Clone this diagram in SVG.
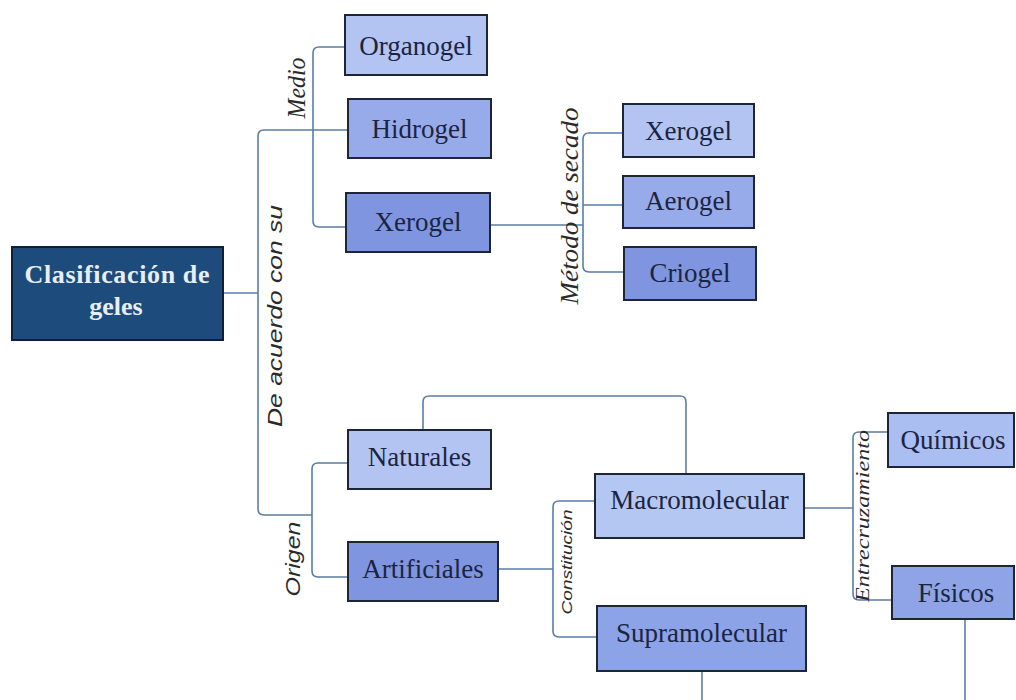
<svg xmlns="http://www.w3.org/2000/svg" width="1016" height="700" viewBox="0 0 1016 700">
<style>
.box{stroke:#1e2535;stroke-width:2}
.t{font-family:"Liberation Serif","Times New Roman",serif;font-size:27px;fill:#1b2440;text-anchor:middle}
.title{font-family:"Liberation Serif","Times New Roman",serif;font-size:26px;font-weight:bold;fill:#e8eef6;text-anchor:middle}
.lbl{font-family:"Liberation Serif","Times New Roman",serif;font-style:italic;fill:#2a2a2a;text-anchor:middle}
.lbs{font-family:"Liberation Sans",Arial,sans-serif;font-style:italic;fill:#2a2a2a;text-anchor:middle}
.c{fill:none;stroke:#5a7ea6;stroke-width:1.6}
.l1{fill:#b3c4f3}.l2{fill:#97abea}.l3{fill:#7f95e0}
</style>
<rect width="1016" height="700" fill="#ffffff"/>
<g id="connectors">
<path class="c" d="M222,293 H258"/>
<path class="c" d="M348,130 H264 Q258,130 258,136 V509 Q258,515 264,515 H312"/>
<path class="c" d="M345,47 H319 Q313,47 313,53 V221 Q313,227 319,227 H346"/>
<path class="c" d="M490,225 H583"/>
<path class="c" d="M623,133 H589 Q583,133 583,139 V266 Q583,272 589,272 H624"/>
<path class="c" d="M583,205 H623"/>
<path class="c" d="M348,463 H318 Q312,463 312,469 V571 Q312,577 318,577 H348"/>
<path class="c" d="M423,430 V402 Q423,396 429,396 H680 Q686,396 686,402 V474"/>
<path class="c" d="M498,569 H553"/>
<path class="c" d="M595,501 H559 Q553,501 553,507 V631 Q553,637 559,637 H597"/>
<path class="c" d="M804,508 H853"/>
<path class="c" d="M888,432 H859 Q853,432 853,438 V594 Q853,600 859,600 H892"/>
<path class="c" d="M702,671 V700"/>
<path class="c" d="M965,619 V700"/>
</g>
<g id="labels">
<text class="lbs" x="282" y="316" font-size="20" textLength="222" lengthAdjust="spacingAndGlyphs" transform="rotate(-90 282 316)">De acuerdo con su</text>
<text class="lbl" x="305" y="88" font-size="25" textLength="61" lengthAdjust="spacingAndGlyphs" transform="rotate(-90 305 88)">Medio</text>
<text class="lbl" x="578" y="206" font-size="25" textLength="197" lengthAdjust="spacingAndGlyphs" transform="rotate(-90 578 206)">Método de secado</text>
<text class="lbs" x="300" y="559" font-size="21" textLength="75" lengthAdjust="spacingAndGlyphs" transform="rotate(-90 300 559)">Origen</text>
<text class="lbs" x="572" y="562" font-size="15" textLength="105" lengthAdjust="spacingAndGlyphs" transform="rotate(-90 572 562)">Constitución</text>
<text class="lbl" x="869" y="516" font-size="18" textLength="172" lengthAdjust="spacingAndGlyphs" transform="rotate(-90 869 516)">Entrecruzamiento</text>
</g>
<g id="n-main"><rect x="12" y="247" width="211" height="93" fill="#1d4b7b" stroke="#0e2036" stroke-width="2"/><text class="title" x="117" y="283" textLength="185" lengthAdjust="spacing">Clasificación de</text><text class="title" x="116" y="315">geles</text></g>
<g id="n-organogel"><rect class="box l1" x="345" y="15" width="142" height="60"/><text class="t" x="416" y="55">Organogel</text></g>
<g id="n-hidrogel"><rect class="box l2" x="348" y="99" width="143" height="59"/><text class="t" x="419.5" y="138">Hidrogel</text></g>
<g id="n-xerogel1"><rect class="box l3" x="346" y="193" width="144" height="59"/><text class="t" x="418" y="231">Xerogel</text></g>
<g id="n-xerogel2"><rect class="box l1" x="623" y="104" width="131" height="53"/><text class="t" x="688.5" y="140">Xerogel</text></g>
<g id="n-aerogel"><rect class="box l2" x="623" y="176" width="131" height="52"/><text class="t" x="688.5" y="210">Aerogel</text></g>
<g id="n-criogel"><rect class="box l3" x="624" y="247" width="132" height="53"/><text class="t" x="690" y="282">Criogel</text></g>
<g id="n-naturales"><rect class="box l1" x="348" y="430" width="143" height="59"/><text class="t" x="419.5" y="466">Naturales</text></g>
<g id="n-artificiales"><rect class="box l3" x="348" y="542" width="150" height="59"/><text class="t" x="423" y="578">Artificiales</text></g>
<g id="n-macro"><rect class="box" fill="#b4c7f2" x="595" y="474" width="209" height="64"/><text class="t" x="699.5" y="509">Macromolecular</text></g>
<g id="n-supra"><rect class="box" fill="#8ca3e8" x="597" y="606" width="209" height="65"/><text class="t" x="701.5" y="642">Supramolecular</text></g>
<g id="n-quimicos"><rect class="box" fill="#aabef1" x="888" y="413" width="126" height="54"/><text class="t" x="953" y="449">Químicos</text></g>
<g id="n-fisicos"><rect class="box" fill="#8ea4e7" x="892" y="566" width="122" height="53"/><text class="t" x="956" y="602">Físicos</text></g>
</svg>
